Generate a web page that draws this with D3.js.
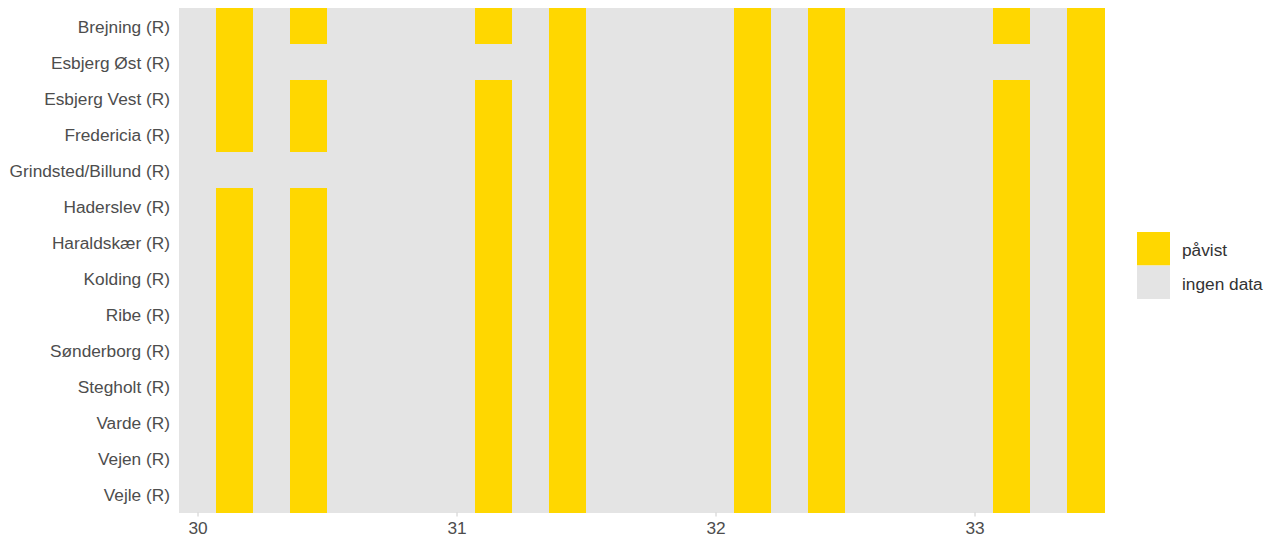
<!DOCTYPE html>
<html>
<head>
<meta charset="utf-8">
<script src="https://cdn.jsdelivr.net/npm/d3@7"></script>
<style>
  body { margin: 0; background: #fff; }
  text { font-family: "Liberation Sans", Arial, sans-serif; }
</style>
</head>
<body>
<script>
// stations (rows, top to bottom)
var stations = ["Brejning (R)", "Esbjerg Øst (R)", "Esbjerg Vest (R)", "Fredericia (R)",
  "Grindsted/Billund (R)", "Haderslev (R)", "Haraldskær (R)", "Kolding (R)", "Ribe (R)",
  "Sønderborg (R)", "Stegholt (R)", "Varde (R)", "Vejen (R)", "Vejle (R)"];

// days as week + weekday/7
var days = [30.000, 30.143, 30.286, 30.429, 30.571, 30.714, 30.857,
  31.000, 31.143, 31.286, 31.429, 31.571, 31.714, 31.857,
  32.000, 32.143, 32.286, 32.429, 32.571, 32.714, 32.857,
  33.000, 33.143, 33.286, 33.429];

// sample days with detection
var allSamples = [30.143, 30.429, 31.143, 31.429, 32.143, 32.429, 33.143, 33.429];
var detected = {
  "Esbjerg Øst (R)": [30.143, 31.429, 32.143, 32.429, 33.429],
  "Grindsted/Billund (R)": [31.143, 31.429, 32.143, 32.429, 33.143, 33.429]
};

var xTicks = [30, 31, 32, 33];
var legendLabels = ["påvist", "ingen data"];
var colors = {"påvist": "#FFD700", "ingen data": "#E4E4E4"};

var W = 1274, H = 541;
var svg = d3.select("body").append("svg").attr("width", W).attr("height", H);

var x = d3.scaleLinear().domain([30 - 0.5 / 7, 33 + 3.5 / 7]).range([179, 1104]);
var y = d3.scaleBand().domain(stations).range([8, 512.5]);

var cells = [];
stations.forEach(function(s) {
  var hits = detected[s] || allSamples;
  days.forEach(function(d) {
    cells.push({station: s, day: d, status: hits.indexOf(d) >= 0 ? "påvist" : "ingen data"});
  });
});

// tiles
var tw = x(1 / 7) - x(0);
svg.append("g").attr("shape-rendering", "crispEdges").selectAll("rect")
  .data(cells)
  .enter().append("rect")
    .attr("x", function(d) { return x(d.day) - tw / 2; })
    .attr("y", function(d) { return y(d.station); })
    .attr("width", tw + 0.5)
    .attr("height", y.bandwidth() + 0.5)
    .attr("fill", function(d) { return colors[d.status]; });

// x axis
var xa = svg.append("g")
  .attr("transform", "translate(0,512.5)")
  .call(d3.axisBottom(x).tickValues(xTicks).tickSize(4).tickPadding(5).tickFormat(d3.format("d")));
xa.select(".domain").remove();
xa.selectAll("line").attr("stroke", "#CCCCCC");
xa.selectAll("text").attr("fill", "#4D4D4D").style("font-size", "17.3px");

// y axis
var ya = svg.append("g")
  .attr("transform", "translate(179,0)")
  .call(d3.axisLeft(y).tickSize(0).tickPadding(9));
ya.select(".domain").remove();
ya.selectAll("text").attr("fill", "#4D4D4D").style("font-size", "17.3px").attr("dy", "0.4em");

// legend
var lg = svg.append("g").attr("transform", "translate(1137,232)");
legendLabels.forEach(function(l, i) {
  lg.append("rect").attr("x", 0).attr("y", i * 33.5).attr("width", 33).attr("height", 33.5)
    .attr("fill", colors[l]);
  lg.append("text").attr("x", 45).attr("y", i * 33.5 + 18).attr("dy", "0.35em")
    .attr("fill", "#333").style("font-size", "17.3px").text(l);
});
</script>
</body>
</html>
